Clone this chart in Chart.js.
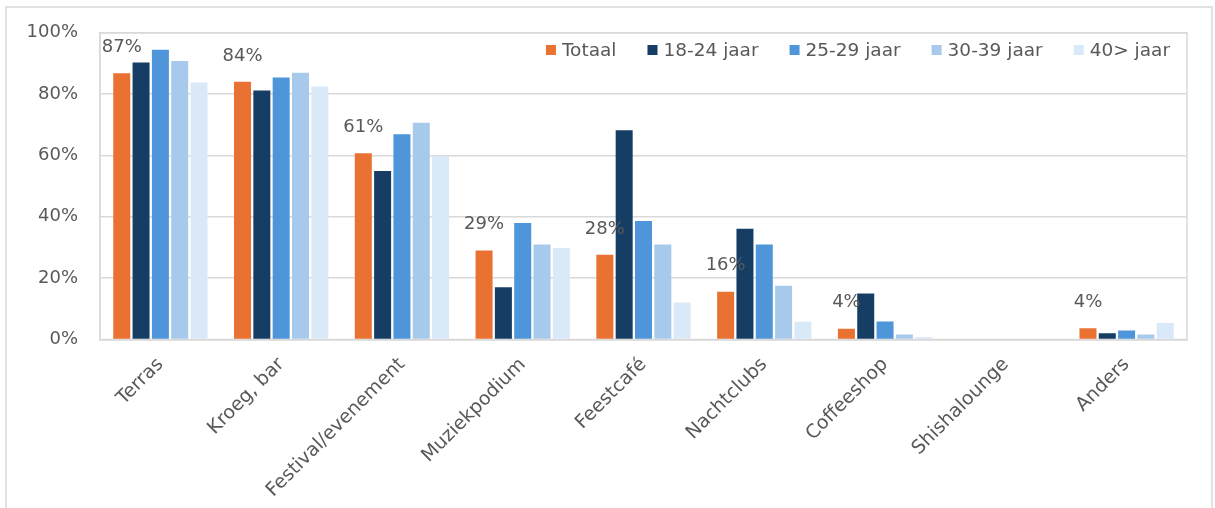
<!DOCTYPE html>
<html>
<head>
<meta charset="utf-8">
<script src="https://cdn.jsdelivr.net/npm/chart.js@4.4.0/dist/chart.umd.min.js"></script>
<style>
  html, body { margin: 0; padding: 0; background: #fff; }
  #wrap { position: relative; width: 1215px; height: 508px; }
</style>
</head>
<body>
<div id="wrap"><canvas id="chart" width="1215" height="508"></canvas></div>
<script>
const categorieen = ['Terras', 'Kroeg, bar', 'Festival/evenement', 'Muziekpodium', 'Feestcafé', 'Nachtclubs', 'Coffeeshop', 'Shishalounge', 'Anders'];
const totaal     = [86.8, 84.0, 60.7, 29.0, 27.6, 15.6, 3.5, 0, 3.7];
const jaar18_24  = [90.3, 81.2, 54.9, 17.0, 68.2, 36.1, 15.0, 0, 2.0];
const jaar25_29  = [94.5, 85.4, 66.9, 38.0, 38.6, 31.0, 5.9, 0, 2.9];
const jaar30_39  = [90.8, 87.0, 70.7, 31.0, 31.0, 17.5, 1.6, 0, 1.6];
const jaar40plus = [83.8, 82.5, 59.8, 29.8, 12.1, 5.8, 0.8, 0, 5.4];
const reeksNamen = ['Totaal', '18-24 jaar', '25-29 jaar', '30-39 jaar', '40> jaar'];
const kleuren = ['#E97132', '#163E64', '#4E95D9', '#A6C9EC', '#DAE9F8'];

const tekstKleur = '#595959';
const lijnKleur = '#d9d9d9';
const font = 'DejaVu Sans';

// kader om de hele grafiek
const kader = {
    id: 'kader',
    beforeDraw(chart) {
        const c = chart.ctx;
        c.save();
        c.strokeStyle = lijnKleur;
        c.lineWidth = 1.5;
        c.strokeRect(6, 7, 1206, 520);
        c.restore();
    }
};

// rand om het plotgebied
const plotRand = {
    id: 'plotRand',
    beforeDatasetsDraw(chart) {
        const a = chart.chartArea;
        const c = chart.ctx;
        c.save();
        c.strokeStyle = lijnKleur;
        c.lineWidth = 1.5;
        c.strokeRect(a.left, a.top, a.right - a.left, a.bottom - a.top);
        c.restore();
    }
};

// percentages boven de Totaal-balken
const totaalLabels = {
    id: 'totaalLabels',
    afterDatasetsDraw(chart) {
        const c = chart.ctx;
        const meta = chart.getDatasetMeta(0);
        c.save();
        c.font = '18px "' + font + '"';
        c.fillStyle = tekstKleur;
        c.textAlign = 'center';
        c.textBaseline = 'middle';
        meta.data.forEach((bar, i) => {
            const v = chart.data.datasets[0].data[i];
            if (v > 0) c.fillText(Math.round(v) + '%', bar.x, bar.y - 26);
        });
        c.restore();
    }
};

// legenda rechtsboven in het plotgebied
const legenda = {
    id: 'legenda',
    afterDraw(chart) {
        const c = chart.ctx;
        c.save();
        c.font = '18.5px "' + font + '"';
        c.textBaseline = 'middle';
        c.textAlign = 'left';
        const y = 50;
        const box = 10, gat = 6, tussen = 31;
        let x = chart.chartArea.right - 17;
        const sets = chart.data.datasets;
        for (let i = sets.length - 1; i >= 0; i--) {
            const w = c.measureText(sets[i].label).width;
            x -= w;
            c.fillStyle = tekstKleur;
            c.fillText(sets[i].label, x, y + 1);
            x -= gat + box;
            c.fillStyle = sets[i].backgroundColor;
            c.fillRect(x, y - box / 2, box, box);
            x -= tussen;
        }
        c.restore();
    }
};

const reeksen = [totaal, jaar18_24, jaar25_29, jaar30_39, jaar40plus];

new Chart(document.getElementById('chart').getContext('2d'), {
    type: 'bar',
    data: {
        labels: categorieen,
        datasets: reeksen.map((data, i) => ({
            label: reeksNamen[i],
            data: data,
            backgroundColor: kleuren[i],
            borderWidth: 0,
            categoryPercentage: 0.8,
            barPercentage: 0.88
        }))
    },
    options: {
        responsive: false,
        animation: false,
        devicePixelRatio: 1,
        layout: { padding: { top: 32.5, right: 28, left: 0, bottom: 0 } },
        plugins: {
            legend: { display: false },
            tooltip: { enabled: false }
        },
        scales: {
            x: {
                grid: { display: false },
                border: { display: true, color: lijnKleur, width: 1.5 },
                ticks: {
                    color: tekstKleur,
                    font: { family: font, size: 19 },
                    minRotation: 45,
                    maxRotation: 45,
                    autoSkip: false,
                    padding: 6
                },
                afterFit(scale) { scale.height = 168.5; }
            },
            y: {
                min: 0,
                max: 100,
                ticks: {
                    stepSize: 20,
                    color: tekstKleur,
                    font: { family: font, size: 18 },
                    padding: 22,
                    callback: v => v + '%'
                },
                grid: { color: lijnKleur, lineWidth: 1.5, drawTicks: false },
                border: { display: true, color: lijnKleur, width: 1.5 },
                afterFit(scale) { scale.width = 100; }
            }
        }
    },
    plugins: [kader, plotRand, totaalLabels, legenda]
});
</script>
</body>
</html>
